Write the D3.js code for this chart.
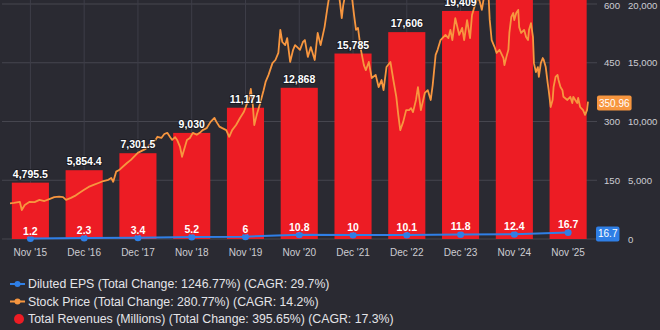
<!DOCTYPE html>
<html>
<head>
<meta charset="utf-8">
<script src="https://cdn.jsdelivr.net/npm/d3@7"></script>
<style>
  html, body { margin: 0; padding: 0; background: #2a2a32; }
  svg { display: block; font-family: "Liberation Sans", Arial, Helvetica, sans-serif; }
</style>
</head>
<body>
<svg id="chart" width="660" height="330"></svg>
<script>
// Fiscal years
const categories = ["Nov '15", "Dec '16", "Dec '17", "Nov '18", "Nov '19", "Nov '20",
                    "Dec '21", "Dec '22", "Dec '23", "Nov '24", "Nov '25"];
// Total revenues (millions)
const revenue = [4795.5, 5854.4, 7301.5, 9030, 11171, 12868, 15785, 17606, 19409, 21505, 23769];
// Diluted EPS
const eps = [1.2, 2.3, 3.4, 5.2, 6, 10.8, 10, 10.1, 11.8, 12.4, 16.7];

// Stock price history: sample step along the period, closing price
const priceSteps = [
  0, 4, 10, 12, 15, 20, 25, 30, 35, 40, 45, 50, 54, 57, 62, 66, 70, 75, 80, 85,
  90, 95, 100, 103, 105, 108, 111, 115, 119, 123, 127, 130, 134, 138, 142, 145, 148, 150, 154, 157,
  160, 163, 165, 168, 170, 173, 175, 177, 180, 183, 186, 190, 193, 196, 200, 204, 208, 210, 213, 216,
  220, 223, 226, 230, 234, 238, 241, 243, 245, 247, 248.5, 251, 254, 258, 260, 263, 267, 270, 273, 275,
  277, 280, 282, 285, 288, 290, 293, 295, 298, 300, 303, 306, 310, 313, 316, 320, 323, 325, 328, 331,
  334, 336, 337.5, 339, 342, 345, 348, 350, 352, 354, 357, 360, 362, 365, 368, 372, 375, 378, 380, 383,
  387, 390, 393, 395, 397, 400, 403, 406, 408, 410, 413, 415, 418, 422, 425, 428, 430, 433, 435, 438,
  443, 446, 448, 450, 453, 457, 460, 462, 465, 468, 470, 473, 476, 478, 480, 482, 485, 487, 488, 490,
  493, 495, 498, 502, 503, 505, 507, 508, 510, 512, 513, 515, 517, 518, 520, 523, 525, 527, 528, 530,
  532, 533, 535, 537, 538, 540, 542, 543, 545, 547, 548, 550, 552, 553, 555, 557, 558, 560, 562, 563,
  567, 570, 572, 573, 575, 577, 578, 580, 583, 585, 587, 588
];
const priceValues = [
  91, 92, 95, 74, 87, 95, 94, 100, 97, 102, 107, 108, 107, 100, 105, 110, 117, 125, 133, 138,
  143, 148, 151, 156, 146, 172, 176, 185, 194, 202, 212, 220, 225, 230, 240, 248, 253, 261, 258, 268,
  271, 260, 253, 260, 253, 235, 210, 227, 253, 258, 271, 266, 271, 278, 283, 299, 309, 299, 287, 283,
  278, 261, 278, 291, 309, 325, 345, 355, 383, 342, 291, 317, 342, 380, 401, 419, 449, 457, 475, 534,
  503, 495, 513, 452, 483, 495, 488, 483, 503, 508, 465, 490, 457, 526, 495, 541, 592, 623, 648, 674,
  636, 597, 564, 597, 636, 641, 615, 572, 534, 539, 483, 444, 431, 452, 411, 419, 388, 406, 380, 439,
  452, 406, 363, 317, 278, 299, 329, 329, 334, 324, 355, 388, 329, 373, 380, 355, 393, 470, 483, 508,
  521, 513, 534, 508, 564, 521, 539, 508, 559, 513, 572, 597, 620, 605, 585, 615, 630, 612, 560, 508,
  490, 475, 483, 462, 444, 465, 483, 526, 567, 577, 559, 577, 585, 541, 526, 534, 516, 508, 534, 551,
  516, 449, 426, 439, 414, 449, 462, 457, 439, 398, 380, 337, 355, 388, 414, 419, 406, 388, 380, 363,
  355, 363, 347, 363, 355, 347, 360, 337, 329, 317, 329, 350.96
];
const lastPrice = 350.96;

// Axis ticks (the price axis zero sits under the EPS badge)
const gridTicks = [0, 150, 300, 450, 600];
const priceTicks = [150, 300, 450, 600];
const revenueTicks = [0, 5000, 10000, 15000, 20000];

// Legend entries
const legendLabels = [
  "Diluted EPS (Total Change: 1246.77%) (CAGR: 29.7%)",
  "Stock Price (Total Change: 280.77%) (CAGR: 14.2%)",
  "Total Revenues (Millions) (Total Change: 395.65%) (CAGR: 17.3%)"
];

const colors = { bar: "#ed1c24", price: "#f7963f", eps: "#2f7fe6", grid: "#46464f", vgrid: "#3e3e48", axisText: "#cdcdd2", legendText: "#e4e4e8" };

const svg = d3.select("#chart");
const plot = { left: 2, right: 597, top: 4, bottom: 239 };

const x = d3.scaleBand().domain(categories).range([3.5, 595]).paddingInner(0.31).paddingOuter(0.155);
const yPrice = d3.scaleLinear().domain([0, 600]).range([plot.bottom, plot.top]);
const yRev = d3.scaleLinear().domain([0, 20000]).range([plot.bottom, plot.top]);
const xPrice = d3.scaleLinear().domain([0, d3.max(priceSteps)]).range([10, 588]);
const cx = c => x(c) + x.bandwidth() / 2;

// Grid
const grid = svg.append("g");
grid.selectAll("line.h").data(gridTicks).join("line")
  .attr("x1", plot.left).attr("x2", plot.right)
  .attr("y1", d => yPrice(d)).attr("y2", d => yPrice(d))
  .attr("stroke", colors.grid).attr("stroke-width", 1);
grid.selectAll("line.v").data(categories).join("line")
  .attr("x1", d => cx(d)).attr("x2", d => cx(d))
  .attr("y1", 0).attr("y2", plot.bottom)
  .attr("stroke", colors.vgrid).attr("stroke-width", 1);

// Right axes: price and revenue
const priceAxis = svg.append("g").attr("transform", `translate(601,0)`)
  .call(d3.axisRight(yPrice).tickValues(priceTicks).tickSize(0).tickPadding(3));
const revAxis = svg.append("g").attr("transform", `translate(625,0)`)
  .call(d3.axisRight(yRev).tickValues(revenueTicks).tickSize(0).tickPadding(3).tickFormat(d3.format(",")));
[priceAxis, revAxis].forEach(g => {
  g.select(".domain").remove();
  g.selectAll("text").attr("fill", colors.axisText).attr("font-size", 9.6)
    .attr("font-family", "'Liberation Sans', Arial, sans-serif");
});
priceAxis.selectAll("text").filter(d => d === 600).attr("dy", "0.45em");
revAxis.selectAll("text").filter(d => d === 20000).attr("dy", "0.45em");

// Bottom axis
const xAxis = svg.append("g").attr("transform", `translate(0,${plot.bottom})`)
  .call(d3.axisBottom(x).tickSize(0).tickPadding(10));
xAxis.select(".domain").remove();
xAxis.selectAll("text").attr("fill", colors.axisText).attr("font-size", 10)
  .attr("font-family", "'Liberation Sans', Arial, sans-serif");

// Revenue bars
svg.append("g").selectAll("rect").data(revenue).join("rect")
  .attr("x", (d, i) => x(categories[i]))
  .attr("width", x.bandwidth())
  .attr("y", d => yRev(d))
  .attr("height", d => yRev(0) - yRev(d))
  .attr("fill", colors.bar);

// Stock price line
const priceData = priceSteps.map((s, i) => [s, priceValues[i]]);
svg.append("path").datum(priceData)
  .attr("fill", "none").attr("stroke", colors.price).attr("stroke-width", 1.8)
  .attr("stroke-linejoin", "round")
  .attr("d", d3.line().x(d => xPrice(d[0])).y(d => yPrice(d[1])));

// Revenue labels
const revFmt = d => (d % 1 ? d3.format(",.1f")(d) : d3.format(",")(d));
svg.append("g").selectAll("text").data(revenue).join("text")
  .attr("x", (d, i) => cx(categories[i]))
  .attr("y", d => yRev(d) - 5)
  .attr("text-anchor", "middle")
  .attr("font-size", 10.5).attr("font-weight", "bold")
  .attr("fill", "#ffffff")
  .attr("stroke", "rgba(20,20,26,0.6)").attr("stroke-width", 2)
  .attr("paint-order", "stroke")
  .text(revFmt);

// EPS line and points
svg.append("path").datum(eps)
  .attr("fill", "none").attr("stroke", colors.eps).attr("stroke-width", 2)
  .attr("d", d3.line().x((d, i) => cx(categories[i])).y(d => yPrice(d)));
svg.append("g").selectAll("circle").data(eps).join("circle")
  .attr("cx", (d, i) => cx(categories[i]))
  .attr("cy", d => yPrice(d))
  .attr("r", 3.5)
  .attr("fill", colors.eps);
svg.append("g").selectAll("text").data(eps).join("text")
  .attr("x", (d, i) => cx(categories[i]))
  .attr("y", d => yPrice(d) - 4)
  .attr("text-anchor", "middle")
  .attr("font-size", 10.5).attr("font-weight", "bold")
  .attr("fill", "#ffffff")
  .attr("stroke", colors.bar).attr("stroke-width", 3)
  .attr("stroke-linejoin", "round")
  .attr("paint-order", "stroke")
  .text(d => d);

// Last-value badges on the right edge
function badge(value, yPos, fill, left) {
  const g = svg.append("g");
  const t = g.append("text")
    .attr("font-size", 10).attr("fill", "#ffffff")
    .attr("text-anchor", "middle").attr("dy", "0.35em")
    .text(value);
  const w = t.node().getComputedTextLength() + 4;
  t.attr("x", left + w / 2).attr("y", yPos);
  g.insert("rect", "text")
    .attr("x", left).attr("y", yPos - 7.5)
    .attr("width", w).attr("height", 15)
    .attr("rx", 2).attr("fill", fill);
}
badge(lastPrice, yPrice(lastPrice) + 1.5, colors.price, 597);
badge(eps[eps.length - 1], yPrice(eps[eps.length - 1]) + 1.5, colors.eps, 596);

// Legend
const legend = svg.append("g");
const rows = [284, 301.5, 319];
legendLabels.forEach((label, i) => {
  const y = rows[i];
  if (i < 2) {
    const c = i === 0 ? colors.eps : colors.price;
    legend.append("line").attr("x1", 10).attr("x2", 25).attr("y1", y).attr("y2", y)
      .attr("stroke", c).attr("stroke-width", 2);
    legend.append("circle").attr("cx", 17.5).attr("cy", y).attr("r", 3).attr("fill", c);
  } else {
    legend.append("circle").attr("cx", 19).attr("cy", y).attr("r", 5).attr("fill", colors.bar);
  }
  legend.append("text").attr("x", 28).attr("y", y + 4.4)
    .attr("font-size", 12.3).attr("fill", colors.legendText)
    .text(label);
});
</script>
</body>
</html>
